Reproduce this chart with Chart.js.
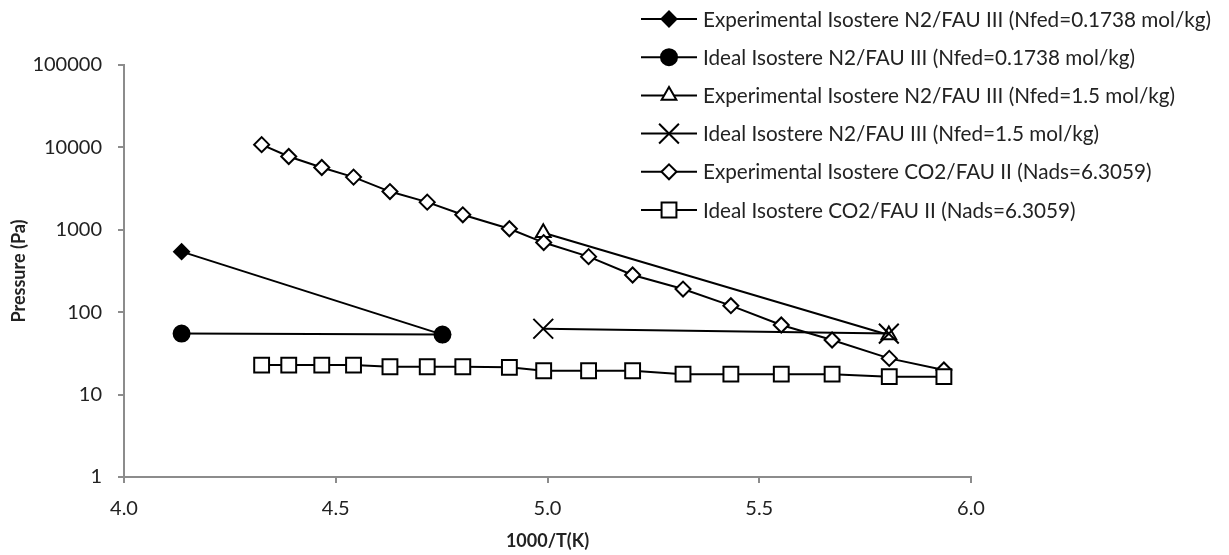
<!DOCTYPE html>
<html><head><meta charset="utf-8">
<script src="https://cdn.jsdelivr.net/npm/chart.js@4.4.1/dist/chart.umd.min.js"></script>
<style>html,body{margin:0;padding:0;background:#fff;} #wrap{width:1229px;height:555px;position:relative;}</style>
</head><body><div id="wrap"><canvas id="c" width="1229" height="555"></canvas></div>
<script>
// ---- data ----
const seriesNames = [
  "Experimental Isostere N2/FAU III (Nfed=0.1738 mol/kg)",
  "Ideal Isostere N2/FAU III (Nfed=0.1738 mol/kg)",
  "Experimental Isostere N2/FAU III (Nfed=1.5 mol/kg)",
  "Ideal Isostere N2/FAU III (Nfed=1.5 mol/kg)",
  "Experimental Isostere CO2/FAU II (Nads=6.3059)",
  "Ideal Isostere CO2/FAU II (Nads=6.3059)"
];
const n2LowX = [4.136, 4.752];
const n2LowExpP = [543, 53.5];
const n2LowIdealP = [55, 53.5];
const n2HighX = [4.99, 5.806];
const n2HighExpP = [919, 53];
const n2HighIdealP = [63, 55];
const co2X = [4.325, 4.389, 4.467, 4.542, 4.628, 4.716, 4.80, 4.91, 4.991, 5.097, 5.201, 5.32, 5.433, 5.552, 5.672, 5.807, 5.936];
const co2ExpP = [10800, 7750, 5700, 4360, 2910, 2165, 1520, 1030, 700, 472, 283, 191, 120, 70, 46, 27.5, 19.9];
const co2IdealP = [22.8, 22.8, 22.8, 22.8, 21.8, 21.8, 21.8, 21.4, 19.5, 19.5, 19.5, 17.7, 17.7, 17.7, 17.7, 16.5, 16.5];
const xTicks = [4.0, 4.5, 5.0, 5.5, 6.0];
const yTicks = [1, 10, 100, 1000, 10000, 100000];
const xTitle = "1000/T(K)";
const yTitle = "Pressure (Pa)";

// ---- build ----
const pair = (xs, ys) => xs.map((x, i) => ({x: x, y: ys[i]}));
const FONT = 'Lato, "Open Sans", sans-serif';
const AXIS = '#8c8c8c';
const TEXT = '#222';

const styles = [
  {pointStyle: 'rectRot', pointRadius: 7.5, pointBackgroundColor: '#000'},
  {pointStyle: 'circle', pointRadius: 8, pointBackgroundColor: '#000'},
  {pointStyle: 'triangle', pointRadius: 8.5, pointBackgroundColor: '#fff'},
  {pointStyle: 'crossRot', pointRadius: 14, pointBackgroundColor: '#fff'},
  {pointStyle: 'rectRot', pointRadius: 7.5, pointBackgroundColor: '#fff'},
  {pointStyle: 'rect', pointRadius: 10.5, pointBackgroundColor: '#fff'}
];
const dataSets = [
  pair(n2LowX, n2LowExpP),
  pair(n2LowX, n2LowIdealP),
  pair(n2HighX, n2HighExpP),
  pair(n2HighX, n2HighIdealP),
  pair(co2X, co2ExpP),
  pair(co2X, co2IdealP)
];
const datasets = dataSets.map((d, i) => Object.assign({
  label: seriesNames[i],
  data: d,
  showLine: true,
  borderColor: '#000',
  borderWidth: 2,
  pointBorderColor: '#000',
  pointBorderWidth: 2,
  pointHoverRadius: styles[i].pointRadius,
  tension: 0,
  fill: false,
  order: 6 - i
}, styles[i]));

const legendPlugin = {
  id: 'xlLegend',
  afterDraw(chart) {
    const ctx = chart.ctx;
    chart.data.datasets.forEach((ds, i) => {
      const y = 19 + 38.2 * i;
      ctx.save();
      ctx.strokeStyle = ds.borderColor;
      ctx.lineWidth = ds.borderWidth;
      ctx.beginPath(); ctx.moveTo(641, y); ctx.lineTo(697, y); ctx.stroke();
      ctx.fillStyle = ds.pointBackgroundColor;
      ctx.strokeStyle = ds.pointBorderColor;
      ctx.lineWidth = ds.pointBorderWidth;
      Chart.helpers.drawPoint(ctx, {pointStyle: ds.pointStyle, rotation: 0, radius: ds.pointRadius, borderWidth: ds.pointBorderWidth}, 669, y);
      ctx.fillStyle = TEXT;
      ctx.font = '20.7px ' + FONT;
      ctx.textBaseline = 'middle';
      ctx.textAlign = 'left';
      ctx.fillText(ds.label, 703, y + 1);
      ctx.restore();
    });
  }
};

new Chart(document.getElementById('c'), {
  type: 'scatter',
  data: {datasets: datasets},
  options: {
    responsive: false,
    animation: false,
    devicePixelRatio: 1,
    layout: {padding: {left: 0, top: 65, right: 258, bottom: 0}},
    plugins: {legend: {display: false}, tooltip: {enabled: false}, title: {display: false}},
    scales: {
      x: {
        type: 'linear', min: 4, max: 6,
        afterBuildTicks: s => { s.ticks = xTicks.map(v => ({value: v})); },
        afterFit: s => { s.height = 78; },
        ticks: {callback: v => Number(v).toFixed(1), color: TEXT, font: {family: FONT, size: 20}, padding: 14, maxRotation: 0},
        grid: {drawOnChartArea: false, drawTicks: true, tickLength: 6, color: AXIS, lineWidth: 2},
        border: {color: AXIS, width: 2},
        title: {display: true, text: xTitle, color: TEXT, font: {family: FONT, size: 18, weight: 'bold'}, padding: {top: 0, bottom: 3}}
      },
      y: {
        type: 'logarithmic', min: 1, max: 100000,
        afterBuildTicks: s => { s.ticks = yTicks.map(v => ({value: v})); },
        afterFit: s => { s.width = 124; },
        ticks: {callback: v => String(v), color: TEXT, font: {family: FONT, size: 20}, padding: 16},
        grid: {drawOnChartArea: false, drawTicks: true, tickLength: 6, color: AXIS, lineWidth: 2},
        border: {color: AXIS, width: 2},
        title: {display: true, text: yTitle, color: TEXT, font: {family: FONT, size: 18, weight: 'bold'}, padding: {top: 8, bottom: 0}}
      }
    }
  },
  plugins: [legendPlugin]
});
</script>
</body></html>
